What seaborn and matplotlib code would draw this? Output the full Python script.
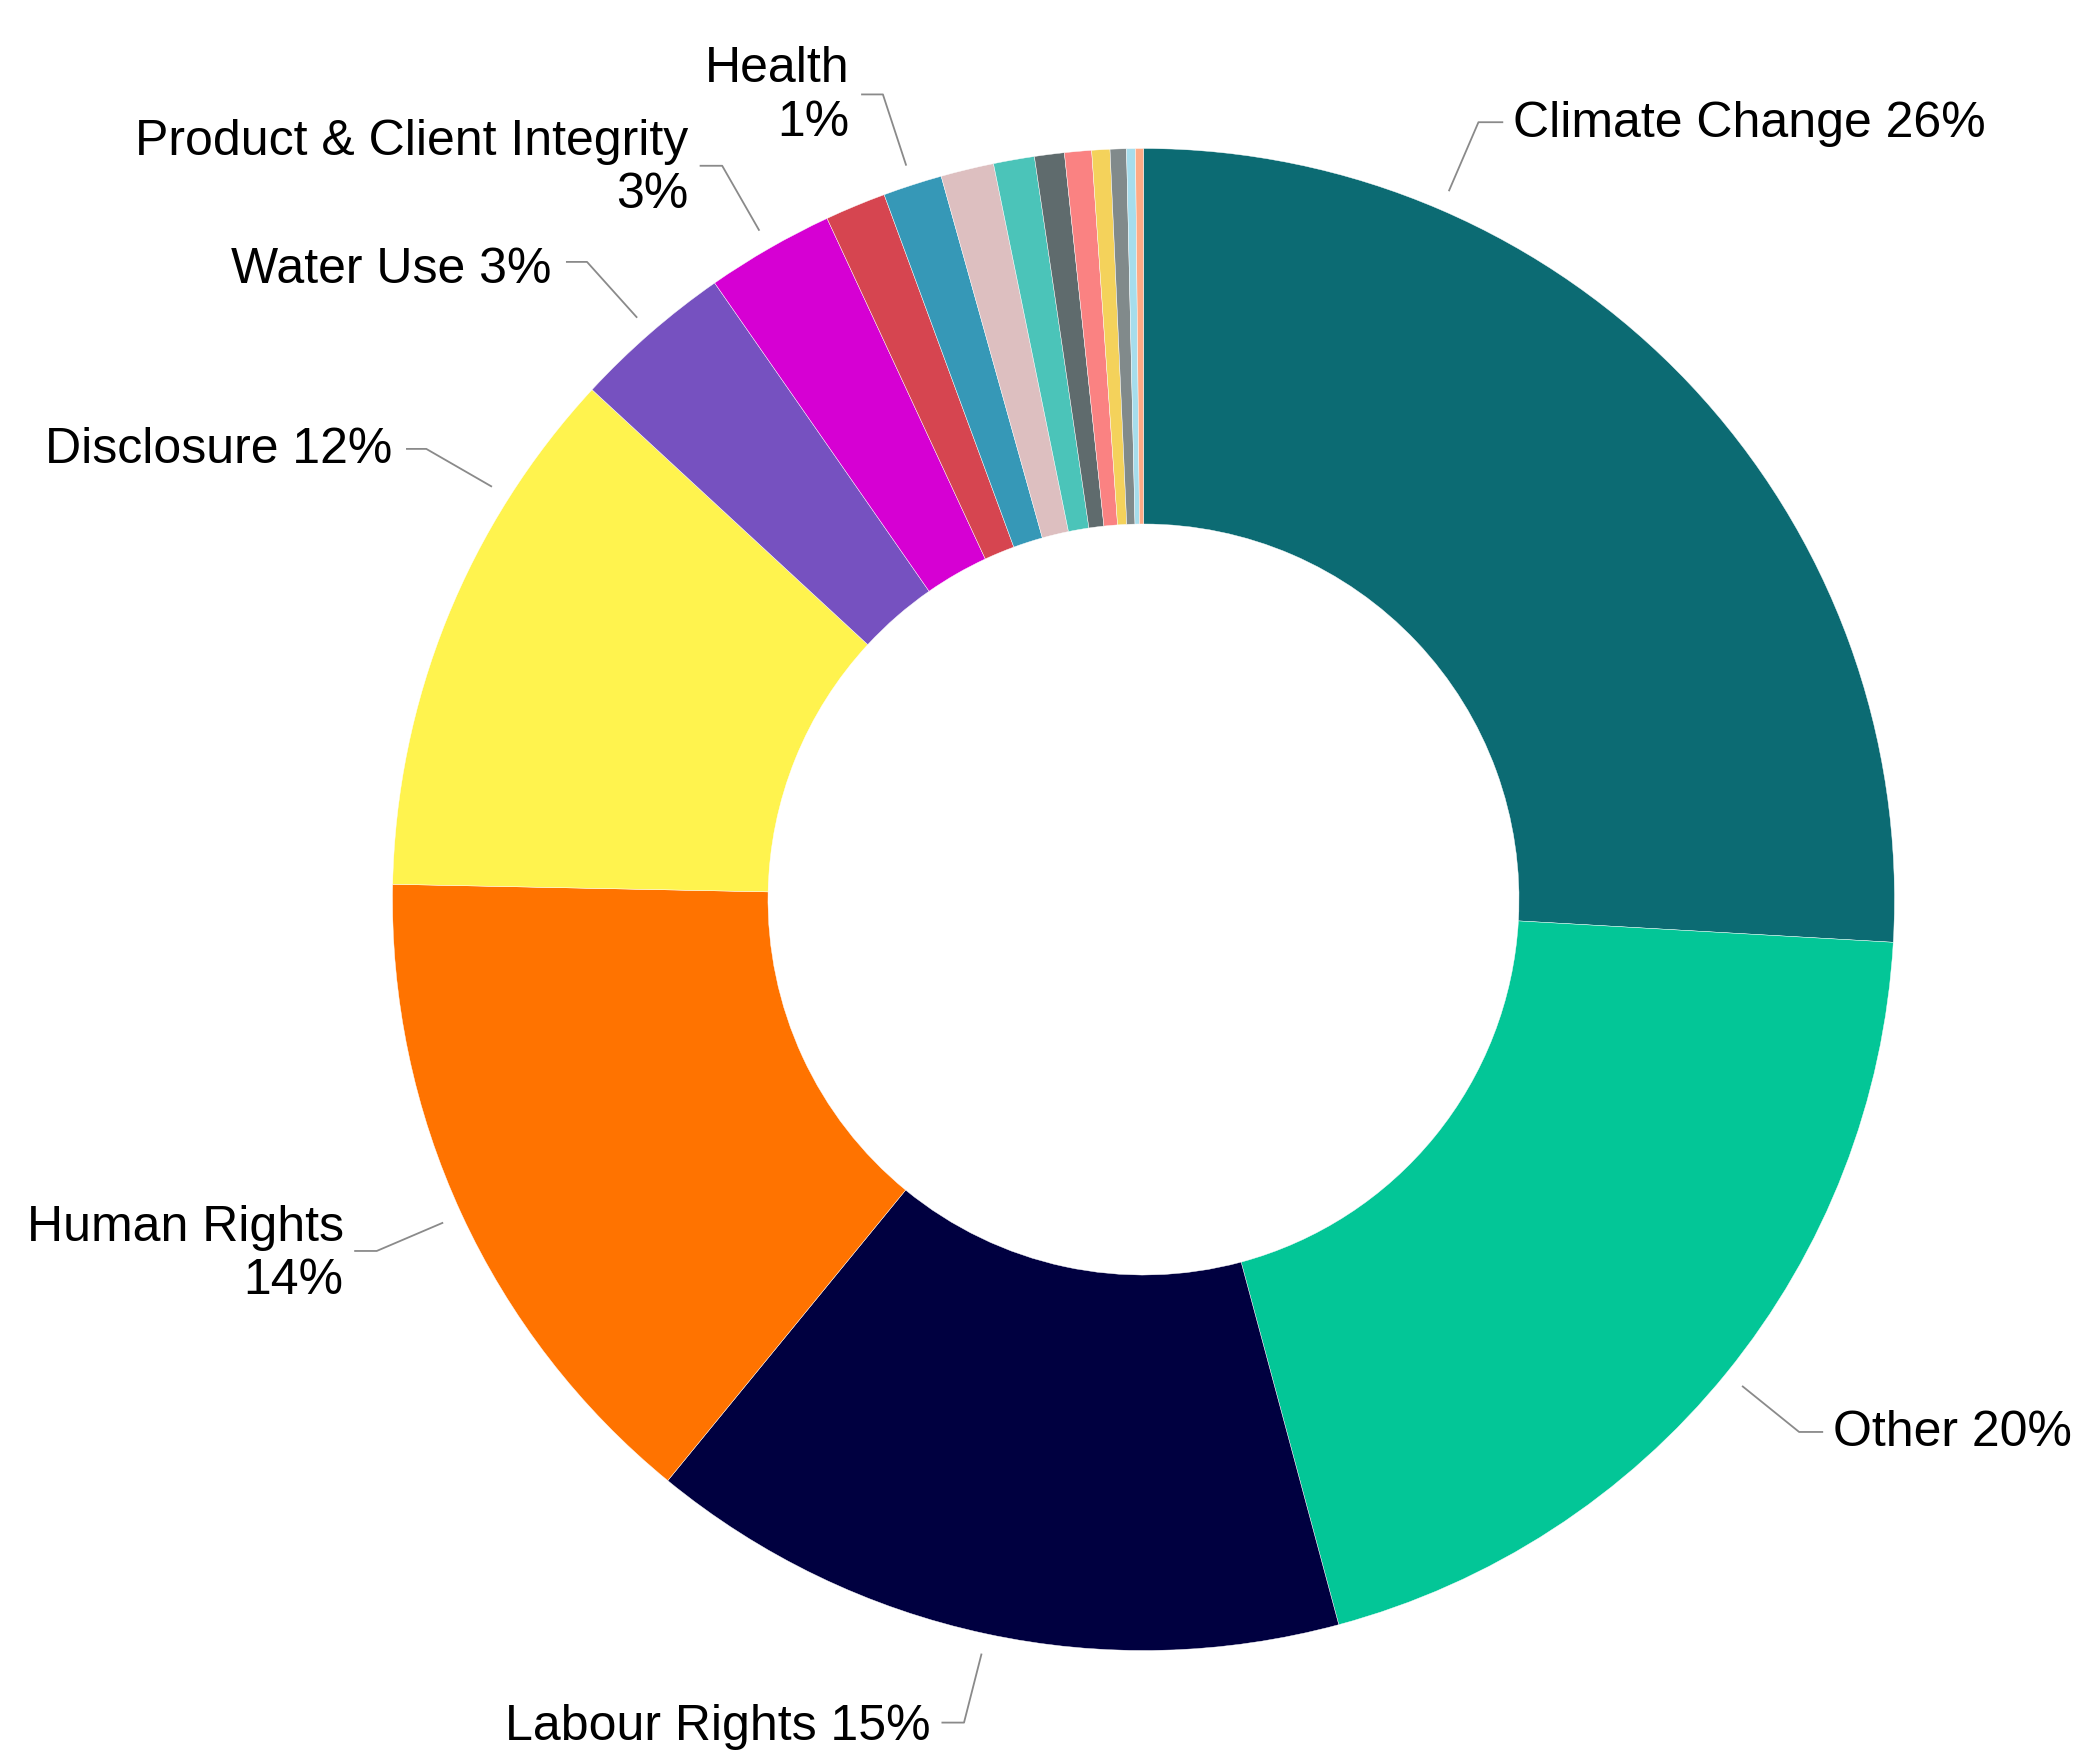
import numpy as np
import matplotlib
matplotlib.use("Agg")
import matplotlib.pyplot as plt
import seaborn as sns

# ---------------- data ----------------
categories = [
    "Climate Change", "Other", "Labour Rights", "Human Rights", "Disclosure",
    "Water Use", "Product & Client Integrity", "Unlabelled 1", "Health",
    "Unlabelled 2", "Unlabelled 3", "Unlabelled 4", "Unlabelled 5",
    "Unlabelled 6", "Unlabelled 7", "Unlabelled 8", "Unlabelled 9",
]
shares = [25.9, 19.9, 15.1, 14.4, 11.55, 3.45, 2.75, 1.31, 1.27,
          1.14, 0.88, 0.64, 0.58, 0.39, 0.35, 0.19, 0.17]
colors = ["#0C6B73", "#03C697", "#000040", "#FF7300", "#FFF34E",
          "#7651C0", "#D600D3", "#D64550", "#3698B7", "#DDBFC0",
          "#4BC4B9", "#5F6B6D", "#FA8282", "#F4D25B", "#818A8B",
          "#A6DDEC", "#FFAA85"]
labelled = ["Climate Change", "Other", "Labour Rights", "Human Rights",
            "Disclosure", "Water Use", "Product & Client Integrity", "Health"]

# ---------------- label layout (positions in axes data units) ----------------
layout = {
    "Climate Change": dict(sep=" ", frac=0.25, elbow=(0.446, 1.035), end_x=0.479,
                           text=(0.492, 1.037), ha="left"),
    "Other": dict(sep=" ", frac=0.5, elbow=(0.873, -0.709), end_x=0.905,
                  text=(0.918, -0.706), ha="left"),
    "Labour Rights": dict(sep=" ", frac=0.5, elbow=(-0.239, -1.096), end_x=-0.269,
                          text=(-0.283, -1.097), ha="right"),
    "Human Rights": dict(sep="\n", frac=0.5, elbow=(-1.021, -0.468), end_x=-1.051,
                         text=(-1.065, -0.468), ha="right"),
    "Disclosure": dict(sep=" ", frac=0.75, elbow=(-0.955, 0.600), end_x=-0.982,
                       text=(-1.000, 0.603), ha="right"),
    "Water Use": dict(sep=" ", frac=0.5, elbow=(-0.741, 0.849), end_x=-0.769,
                      text=(-0.788, 0.843), ha="right"),
    "Product & Client Integrity": dict(sep="\n", frac=0.5, elbow=(-0.561, 0.977),
                                       end_x=-0.591, text=(-0.606, 0.978), ha="right"),
    "Health": dict(sep="\n", frac=0.5, elbow=(-0.347, 1.072), end_x=-0.376,
                   text=(-0.392, 1.075), ha="right"),
}
TEXT_DY = -0.005

# ---------------- figure ----------------
sns.set_theme(style="white")
plt.rcParams["font.family"] = ["Liberation Sans", "DejaVu Sans"]

W, H = 2074, 1760
fig = plt.figure(figsize=(W / 100, H / 100), dpi=100)
cx, cy, R = 1143.5, 1760 - 899.5, 751.0
ax = fig.add_axes([(cx - R) / W, (cy - R) / H, 2 * R / W, 2 * R / H])

wedges, _ = ax.pie(
    shares, colors=colors, startangle=90, counterclock=False, radius=1.0,
    wedgeprops=dict(width=0.5, edgecolor="white", linewidth=0.3),
)
ax.set_xlim(-1, 1)
ax.set_ylim(-1, 1)
ax.set_aspect("equal")
ax.axis("off")

total = float(sum(shares))
cum = np.cumsum([0.0] + list(shares))
for i, name in enumerate(categories):
    if name not in layout:
        continue
    spec = layout[name]
    start_deg = 360.0 * cum[i] / total
    span_deg = 360.0 * shares[i] / total
    theta = start_deg + spec["frac"] * span_deg          # clockwise from top
    a = np.deg2rad(90.0 - theta)
    r0 = 1.027
    p0 = (r0 * np.cos(a), r0 * np.sin(a))
    ex, ey = spec["elbow"]
    ax.plot([p0[0], ex, spec["end_x"]], [p0[1], ey, ey], color="#8A8A8A",
            lw=1.3, solid_capstyle="butt", clip_on=False)
    pct = f"{round(shares[i]):.0f}%"
    ax.text(spec["text"][0], spec["text"][1] + TEXT_DY, f"{name}{spec['sep']}{pct}",
            ha=spec["ha"], va="center", multialignment=spec["ha"],
            fontsize=36, color="black", clip_on=False)

fig.savefig("out.png", dpi=100, facecolor="white")
